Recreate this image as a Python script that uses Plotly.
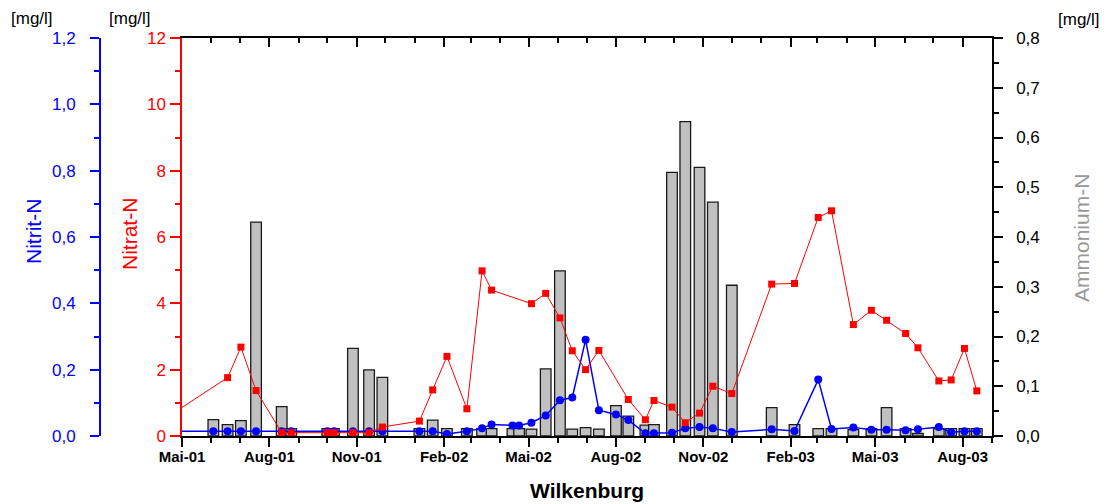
import plotly.graph_objects as go

# ---- data ----
dates = ["2001-04-09", "2001-06-03", "2001-06-18", "2001-07-02", "2001-07-18", "2001-08-14",
         "2001-08-24", "2001-10-01", "2001-10-08", "2001-10-28", "2001-11-14", "2001-11-28",
         "2002-01-06", "2002-01-20", "2002-02-04", "2002-02-25", "2002-03-13", "2002-03-23",
         "2002-04-14", "2002-04-21", "2002-05-04", "2002-05-19", "2002-06-03", "2002-06-16",
         "2002-06-30", "2002-07-14", "2002-08-01", "2002-08-14", "2002-09-01", "2002-09-10",
         "2002-09-29", "2002-10-13", "2002-10-28", "2002-11-11", "2002-12-01", "2003-01-12",
         "2003-02-05", "2003-03-02", "2003-03-16", "2003-04-08", "2003-04-27", "2003-05-13",
         "2003-06-02", "2003-06-15", "2003-07-07", "2003-07-20", "2003-08-03", "2003-08-16"]

nitrat = [0.45, None, 1.76, 2.68, 1.37, 0.10, 0.10, 0.10, 0.10, 0.10, 0.10, 0.27,
          0.45, 1.39, 2.40, 0.82, 4.98, 4.40, None, None, 3.99, 4.30, 3.56, 2.57,
          2.00, 2.58, None, 1.10, 0.49, 1.07, 0.87, 0.40, 0.69, 1.50, 1.28, 4.58,
          4.60, 6.59, 6.79, 3.36, 3.79, 3.49, 3.09, 2.66, 1.66, 1.69, 2.64, 1.36]

nitrit = [0.014, 0.014, 0.014, 0.014, 0.014, 0.014, 0.014, 0.014, 0.014, 0.014, 0.014, 0.014,
          0.014, 0.014, 0.006, 0.014, 0.023, 0.035, 0.032, 0.032, 0.040, 0.062, 0.108, 0.116,
          0.290, 0.078, 0.065, 0.048, 0.008, 0.008, 0.010, 0.023, 0.027, 0.023, 0.012, 0.020,
          0.015, 0.170, 0.021, 0.026, 0.019, 0.019, 0.017, 0.020, 0.027, 0.011, 0.014, 0.014]

ammonium = [None, 0.033, 0.023, 0.031, 0.430, 0.059, 0.015, 0.015, 0.015, 0.176, 0.133, 0.118,
            0.015, 0.032, 0.015, 0.015, 0.015, 0.015, 0.015, 0.015, 0.014, 0.135, 0.332, 0.014,
            0.017, 0.014, 0.061, 0.040, 0.022, 0.023, 0.530, 0.632, 0.540, 0.470, 0.303, 0.057,
            0.023, 0.015, 0.015, 0.013, 0.015, 0.057, 0.015, 0.005, 0.015, 0.015, 0.015, 0.015]

xtick_dates = ["2001-05-01", "2001-08-01", "2001-11-01", "2002-02-01", "2002-05-01",
               "2002-08-01", "2002-11-01", "2003-02-01", "2003-05-01", "2003-08-01"]
xtick_labels = ["Mai-01", "Aug-01", "Nov-01", "Feb-02", "Mai-02",
                "Aug-02", "Nov-02", "Feb-03", "Mai-03", "Aug-03"]

x_range = ["2001-05-01", "2003-09-01"]

# ---- layout geometry ----
W, H = 1106, 504
ML, MR, MT, MB = 100, 114, 38, 68
PW = W - ML - MR
PH = H - MT - MB
x_dom0 = (182 - ML) / PW

def px(x):
    return (x - ML) / PW

def py(y):
    return (H - MB - y) / PH

FONT = "Arial, Liberation Sans, sans-serif"
DAY_MS = 86400000

fig = go.Figure()

# Ammonium bars (base y axis, right side)
fig.add_trace(go.Bar(
    x=dates, y=ammonium, xaxis="x", yaxis="y",
    width=11.2 * DAY_MS,
    marker=dict(color="#C0C0C0", line=dict(color="#1a1a1a", width=1.3)),
    showlegend=False, hoverinfo="x+y",
))

# dummy trace to render the top mirror axis
fig.add_trace(go.Scatter(x=[x_range[0]], y=[None], xaxis="x2", yaxis="y",
                         mode="lines", showlegend=False, hoverinfo="skip"))

# Nitrit (blue)
fig.add_trace(go.Scatter(
    x=dates, y=nitrit, xaxis="x", yaxis="y2", mode="lines+markers",
    line=dict(color="#0000FF", width=1.5),
    marker=dict(symbol="circle", size=8, color="#0000FF", line=dict(width=0)),
    connectgaps=True, showlegend=False,
))

# Nitrat (red)
fig.add_trace(go.Scatter(
    x=dates, y=nitrat, xaxis="x", yaxis="y3", mode="lines+markers",
    line=dict(color="#FF0000", width=1),
    marker=dict(symbol="square", size=7, color="#FF0000", line=dict(width=0)),
    connectgaps=True, showlegend=False,
))

common_x = dict(type="date", range=x_range, domain=[x_dom0, 1], showgrid=False,
                zeroline=False, showline=True, linecolor="black", linewidth=1.5)

fig.update_layout(
    width=W, height=H,
    margin=dict(l=ML, r=MR, t=MT, b=MB, pad=0),
    paper_bgcolor="white", plot_bgcolor="white",
    separators=",.",
    showlegend=False,
    barmode="overlay",
    font=dict(family=FONT, size=17, color="black"),
    xaxis=dict(
        **common_x, anchor="y",
        ticks="outside", ticklen=9, tickwidth=1.5, tickcolor="black",
        tickmode="array", tickvals=xtick_dates, ticktext=xtick_labels,
        tickfont=dict(family=FONT, size=15, color="black", weight="bold"),
        ticklabelstandoff=-3,
        minor=dict(tickmode="linear", tick0="2001-05-01", dtick="M1",
                   ticks="outside", ticklen=5, tickwidth=1.5, tickcolor="black"),
    ),
    xaxis2=dict(
        **common_x, anchor="y", overlaying="x", side="top",
        ticks="inside", ticklen=9, tickwidth=1.5, tickcolor="black",
        tickmode="array", tickvals=xtick_dates, showticklabels=False,
        minor=dict(tickmode="linear", tick0="2001-05-01", dtick="M1",
                   ticks="inside", ticklen=5, tickwidth=1.5, tickcolor="black"),
    ),
    yaxis=dict(
        range=[0, 0.8], side="right", anchor="x", showgrid=False, zeroline=False,
        showline=True, linecolor="black", linewidth=1.5,
        tickmode="linear", tick0=0, dtick=0.1, tickformat=".1f",
        ticks="outside", ticklen=9, tickwidth=1.5, tickcolor="black",
        tickfont=dict(family=FONT, size=17, color="black"),
        ticklabelstandoff=10,
        minor=dict(tickmode="linear", tick0=0, dtick=0.05, ticks="outside",
                   ticklen=5, tickwidth=1.5, tickcolor="black"),
    ),
    yaxis2=dict(
        range=[0, 1.2], overlaying="y", anchor="free", position=0, side="left",
        showgrid=False, zeroline=False,
        showline=True, linecolor="#0000FF", linewidth=2,
        tickmode="linear", tick0=0, dtick=0.2, tickformat=".1f",
        ticks="outside", ticklen=9, tickwidth=1.5, tickcolor="#0000FF",
        tickfont=dict(family=FONT, size=17, color="#0000FF"),
        ticklabelstandoff=11,
        minor=dict(tickmode="linear", tick0=0, dtick=0.1, ticks="outside",
                   ticklen=5, tickwidth=1.5, tickcolor="#0000FF"),
    ),
    yaxis3=dict(
        range=[0, 12], overlaying="y", anchor="x", side="left",
        showgrid=False, zeroline=False,
        showline=True, linecolor="#FF0000", linewidth=1.5,
        tickmode="linear", tick0=0, dtick=2,
        ticks="outside", ticklen=10, tickwidth=1.5, tickcolor="#FF0000",
        tickfont=dict(family=FONT, size=17, color="#FF0000"),
        ticklabelstandoff=1,
        minor=dict(tickmode="linear", tick0=0, dtick=1, ticks="outside",
                   ticklen=5, tickwidth=1.5, tickcolor="#FF0000"),
    ),
)

annots = [
    dict(text="[mg/l]", x=px(31.5), y=py(19), font=dict(size=17, color="black")),
    dict(text="[mg/l]", x=px(130), y=py(19), font=dict(size=17, color="black")),
    dict(text="[mg/l]", x=px(1078.5), y=py(20), font=dict(size=17, color="black")),
    dict(text="Nitrit-N", x=px(33), y=py(232), textangle=-90,
         font=dict(size=21, color="#0000FF")),
    dict(text="Nitrat-N", x=px(129), y=py(234), textangle=-90,
         font=dict(size=21, color="#FF0000")),
    dict(text="Ammonium-N", x=px(1082), y=py(238), textangle=-90,
         font=dict(size=21, color="#999999")),
    dict(text="<b>Wilkenburg</b>", x=px(587), y=py(490),
         font=dict(size=21, color="black")),
]
for a in annots:
    fig.add_annotation(xref="paper", yref="paper", showarrow=False,
                       xanchor="center", yanchor="middle",
                       font_family=FONT, **{k: v for k, v in a.items()})

fig.write_html(
    "out.html",
    config={"displayModeBar": False},
    post_script="document.body.style.margin='0';document.body.style.overflow='hidden';",
)
